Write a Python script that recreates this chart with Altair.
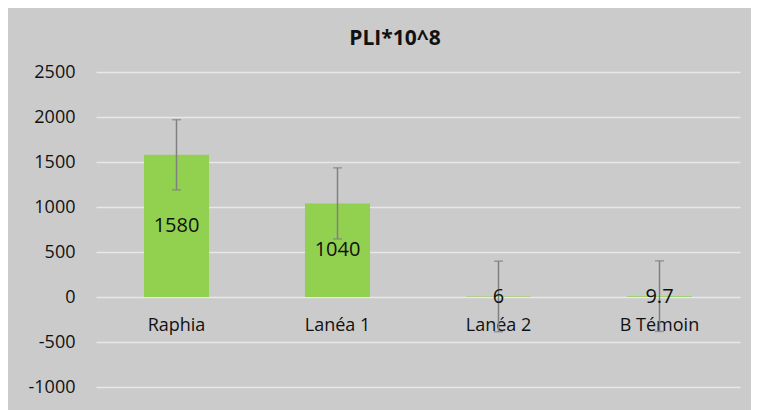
import altair as alt
import pandas as pd

categories = ["Raphia", "Lanéa 1", "Lanéa 2", "B Témoin"]
values = [1580, 1040, 6, 9.7]
labels = ["1580", "1040", "6", "9.7"]
errors = [390, 395, 392, 392]

df = pd.DataFrame({"cat": categories, "val": values, "lab": labels, "err": errors})

FONT = "Open Sans"

x_enc = alt.X(
    "cat:N",
    sort=categories,
    scale=alt.Scale(paddingInner=0.596, paddingOuter=0.298),
    axis=alt.Axis(
        title=None, labelAngle=0, domain=False, ticks=False, offset=-90,
        labelPadding=19, labelFontSize=18, labelFont=FONT, labelColor="#111111",
        grid=False,
    ),
)
y_scale = alt.Scale(domain=[-1000, 2500], nice=False)
y_axis = alt.Axis(
    title=None, values=list(range(-1000, 2501, 500)), domain=False, ticks=False,
    labelExpr="datum.value < 0 ? '-' + format(-datum.value, 'd') : format(datum.value, 'd')",
    labelPadding=21, labelFontSize=18, labelFont=FONT, labelColor="#111111",
    grid=True, gridColor="#e8e8e8", gridWidth=1.5,
)

base = alt.Chart(df).encode(x=x_enc)

bars = base.mark_bar(color="#92d050").encode(
    y=alt.Y("val:Q", scale=y_scale, axis=y_axis)
)

err = base.transform_calculate(
    lo="datum.val - datum.err", hi="datum.val + datum.err"
)
rule = err.mark_rule(color="#808080", strokeWidth=1.5).encode(
    y=alt.Y("lo:Q", scale=y_scale), y2="hi:Q"
)
cap_hi = err.mark_tick(color="#808080", thickness=1.5, size=9).encode(
    y=alt.Y("hi:Q", scale=y_scale)
)
cap_lo = err.mark_tick(color="#808080", thickness=1.5, size=9).encode(
    y=alt.Y("lo:Q", scale=y_scale)
)

text = base.transform_calculate(mid="datum.val / 2").mark_text(
    font=FONT, fontSize=20, color="#111111", baseline="middle", align="center"
).encode(
    y=alt.Y("mid:Q", scale=y_scale),
    text="lab:N",
)

chart = alt.layer(bars, rule, cap_hi, cap_lo, text).properties(
    width=644,
    height=315,
    background="#cbcbcb",
    padding={"left": 88, "top": 64, "right": 11, "bottom": 23},
    autosize=alt.AutoSizeParams(type="none"),
    title=alt.TitleParams(
        "PLI*10^8", font=FONT, fontSize=21, fontWeight="bold", color="#111111",
        anchor="middle", dx=-23, offset=14,
    ),
).configure_view(stroke=None)

chart.save("out.html", embed_options={"renderer": "svg", "actions": False})
